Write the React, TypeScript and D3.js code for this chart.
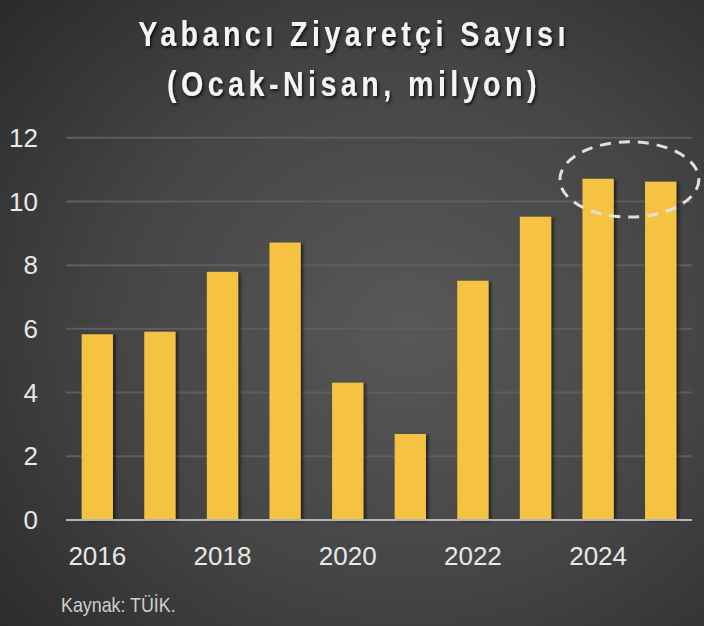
import * as d3 from "d3";

const years = ["2016", "2017", "2018", "2019", "2020", "2021", "2022", "2023", "2024", "2025"];
const visitors = [5.83, 5.91, 7.79, 8.71, 4.31, 2.7, 7.51, 9.52, 10.71, 10.62];
const yTicks = [0, 2, 4, 6, 8, 10, 12];
const xTickLabels = ["2016", "2018", "2020", "2022", "2024"];
const titleLines = ["Yabancı Ziyaretçi Sayısı", "(Ocak-Nisan, milyon)"];
const source = "Kaynak: TÜİK.";

const W = 704;
const H = 626;
const margin = { top: 137.7, right: 12, bottom: 106, left: 66 };

const sans = "'Liberation Sans', Arial, sans-serif";
// the original uses a narrow face; squeeze a regular one horizontally
const squeeze = 0.82;

export default function App() {
  const x = d3
    .scaleBand<string>()
    .domain(years)
    .range([margin.left, W - margin.right])
    .paddingInner(0.5)
    .paddingOuter(0.25);

  const y = d3
    .scaleLinear()
    .domain([0, 12])
    .range([H - margin.bottom, margin.top]);

  const bw = x.bandwidth();
  const cx = (year: string) => (x(year) ?? 0) + bw / 2;

  // dashed ellipse around the last two bars
  const ellCx = (cx("2024") + cx("2025")) / 2;
  const ellTop = y(11.87);
  const ellBottom = y(9.51);
  const ellRx = x.step() * 1.11;

  return (
    <svg
      width={W}
      height={H}
      style={{ position: "absolute", left: 0, top: 0 }}
    >
      <defs>
        <radialGradient id="bg" cx="58%" cy="52%" r="75%">
          <stop offset="0%" stopColor="#585858" />
          <stop offset="55%" stopColor="#454545" />
          <stop offset="100%" stopColor="#2c2c2c" />
        </radialGradient>
        <filter id="barShadow" x="-20%" y="-5%" width="150%" height="115%">
          <feDropShadow dx="2.5" dy="1" stdDeviation="1.5" floodColor="#000" floodOpacity="0.55" />
        </filter>
        <filter id="textShadow" x="-5%" y="-20%" width="110%" height="150%">
          <feDropShadow dx="1.5" dy="2" stdDeviation="1.5" floodColor="#000" floodOpacity="0.75" />
        </filter>
      </defs>

      <rect width={W} height={H} fill="url(#bg)" />

      {/* title */}
      <g filter="url(#textShadow)">
        {titleLines.map((t, i) => (
          <text
            key={t}
            transform={`translate(${W / 2 + 2},${46 + i * 50}) scale(${squeeze},1)`}
            textAnchor="middle"
            fill="#f4f4f4"
            fontFamily={sans}
            fontWeight="bold"
            fontSize={35}
            letterSpacing={5.4}
          >
            {t}
          </text>
        ))}
      </g>

      {/* gridlines */}
      {yTicks
        .filter((t) => t > 0)
        .map((t) => (
          <line
            key={t}
            x1={margin.left}
            x2={W - margin.right}
            y1={y(t)}
            y2={y(t)}
            stroke="#5e5e5e"
            strokeWidth={2}
          />
        ))}

      {/* y labels */}
      {yTicks.map((t) => (
        <text
          key={t}
          x={38}
          y={y(t)}
          dy="0.35em"
          textAnchor="end"
          fill="#e8e8e8"
          fontFamily={sans}
          fontSize={26}
        >
          {t}
        </text>
      ))}

      {/* bars */}
      <g filter="url(#barShadow)">
        {years.map((yr, i) => (
          <rect
            key={yr}
            x={x(yr)}
            y={y(visitors[i])}
            width={bw}
            height={y(0) - y(visitors[i])}
            fill="#f5c242"
          />
        ))}
      </g>

      {/* baseline */}
      <line
        x1={margin.left}
        x2={W - margin.right}
        y1={y(0)}
        y2={y(0)}
        stroke="#b4b4b4"
        strokeWidth={2}
      />

      {/* x labels */}
      {xTickLabels.map((yr) => (
        <text
          key={yr}
          x={cx(yr)}
          y={565}
          textAnchor="middle"
          fill="#e8e8e8"
          fontFamily={sans}
          fontSize={26}
        >
          {yr}
        </text>
      ))}

      <ellipse
        cx={ellCx}
        cy={(ellTop + ellBottom) / 2}
        rx={ellRx}
        ry={(ellBottom - ellTop) / 2}
        fill="none"
        stroke="#e0e0e0"
        strokeWidth={3}
        strokeDasharray="11 8"
      />

      <text
        transform={`translate(61,612) scale(0.85,1)`}
        fill="#cfcfcf"
        fontFamily={sans}
        fontSize={21}
      >
        {source}
      </text>
    </svg>
  );
}
